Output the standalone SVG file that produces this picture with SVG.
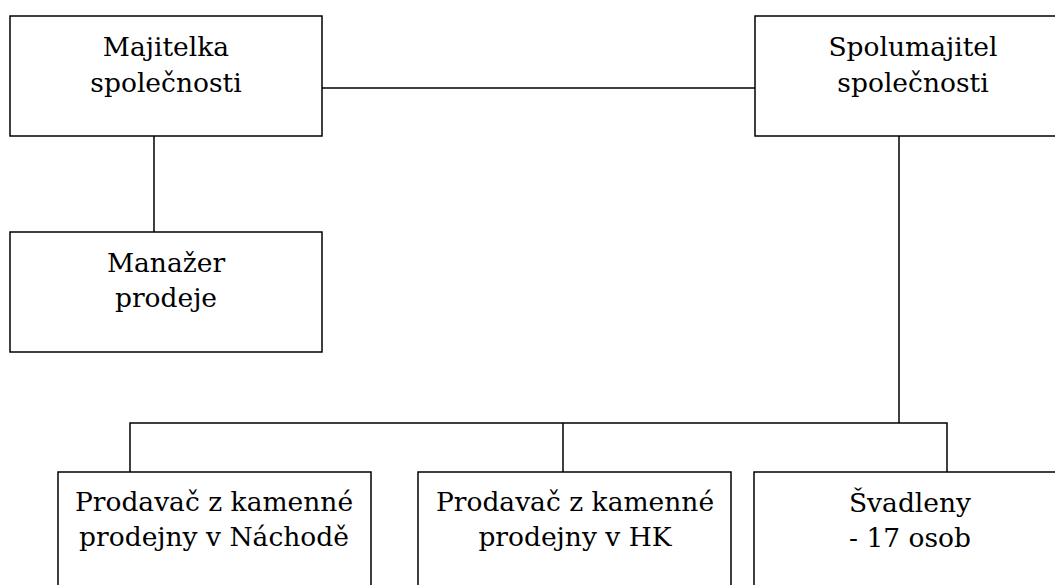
<svg xmlns="http://www.w3.org/2000/svg" width="1055" height="585" viewBox="0 0 1055 585">
<style>
.box{fill:#fff;stroke:#000;stroke-width:1.5}
.ln{fill:none;stroke:#000;stroke-width:1.5}
.t{font-family:'DejaVu Serif','Liberation Serif',serif;font-size:26.5px;fill:#000;text-anchor:middle}
</style>
<rect width="1055" height="585" fill="#fff"/>
<g id="connectors">
<path class="ln" d="M322 88H755"/>
<path class="ln" d="M154 136V232"/>
<path class="ln" d="M899 136V423"/>
<path class="ln" d="M130 472V423H947V472"/>
<path class="ln" d="M563 423V472"/>
</g>
<g id="n1"><rect class="box" x="10" y="16" width="312" height="120"/><text class="t" x="166" y="56">Majitelka</text><text class="t" x="166" y="92">společnosti</text></g>
<g id="n2"><rect class="box" x="755" y="16" width="316" height="120"/><text class="t" x="913" y="56">Spolumajitel</text><text class="t" x="913" y="92">společnosti</text></g>
<g id="n3"><rect class="box" x="10" y="232" width="312" height="120"/><text class="t" x="166" y="272">Manažer</text><text class="t" x="166" y="307">prodeje</text></g>
<g id="n4"><rect class="box" x="58" y="472" width="313" height="130"/><text class="t" x="214" y="511">Prodavač z kamenné</text><text class="t" x="214" y="546">prodejny v Náchodě</text></g>
<g id="n5"><rect class="box" x="418" y="472" width="313" height="130"/><text class="t" x="575" y="511">Prodavač z kamenné</text><text class="t" x="575" y="546">prodejny v HK</text></g>
<g id="n6"><rect class="box" x="754" y="472" width="312" height="130"/><text class="t" x="910" y="512">Švadleny</text><text class="t" x="910" y="547">- 17 osob</text></g>
</svg>
